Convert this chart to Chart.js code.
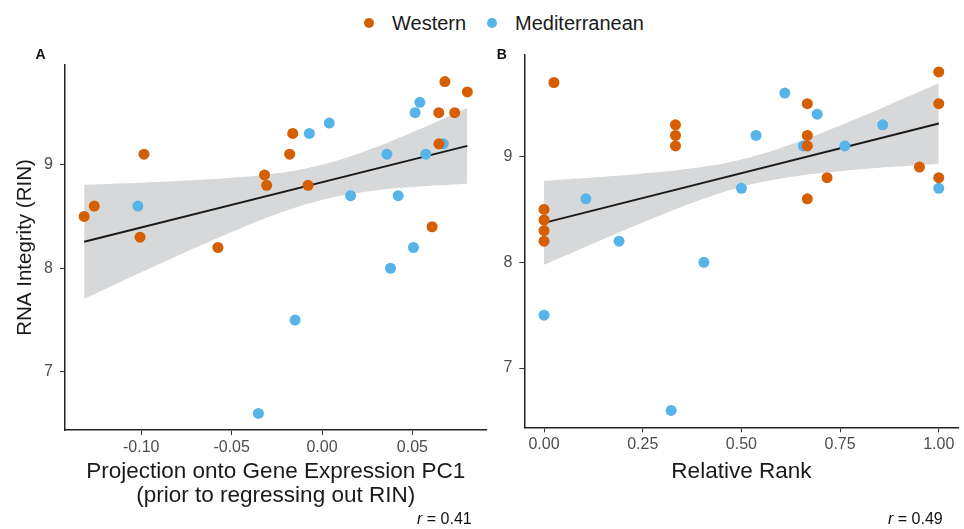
<!DOCTYPE html>
<html>
<head>
<meta charset="utf-8">
<script src="https://cdn.jsdelivr.net/npm/chart.js@4.4.0/dist/chart.umd.min.js"></script>
<style>
  body { margin:0; background:#fff; width:964px; height:529px; position:relative; overflow:hidden; font-family:"Liberation Sans", Arial, sans-serif; }
  #chartA { position:absolute; left:0; top:0; }
  #chartB { position:absolute; left:492px; top:0; }
  .leg { position:absolute; top:10px; font-size:20px; color:#1a1a1a; line-height:26px; }
  .dot { position:absolute; width:10px; height:10px; border-radius:50%; top:18px; }
</style>
</head>
<body>
<span class="dot" style="left:364px;background:#D55E00"></span>
<span class="leg" style="left:392px">Western</span>
<span class="dot" style="left:487px;background:#56B4E9"></span>
<span class="leg" style="left:515px">Mediterranean</span>
<canvas id="chartA" width="492" height="529"></canvas>
<canvas id="chartB" width="472" height="529"></canvas>
<script>
// panel A : projection onto PC1
var aWestX=[-0.1316,-0.126,-0.0985,-0.1007,-0.0576,-0.0318,-0.0306,-0.0162,-0.0179,-0.0077,0.068,0.0804,0.0646,0.0734,0.0647,0.0609];
var aWestY=[8.5,8.6,9.1,8.3,8.2,8.9,8.8,9.3,9.1,8.8,9.8,9.7,9.5,9.5,9.2,8.4];
var aMedX=[-0.1019,-0.007,0.004,0.0158,0.0359,0.0421,0.0515,0.0541,0.0574,0.0671,0.0506,0.0379,-0.0149,-0.0352];
var aMedY=[8.6,9.3,9.4,8.7,9.1,8.7,9.5,9.6,9.1,9.2,8.2,8.0,7.5,6.6];
var aFitX=[-0.1316,0.0804];
var aFitY=[8.255,9.18];
var aBandX=[-0.1316,-0.1,-0.075,-0.05,-0.025,0,0.025,0.05,0.0804];
var aBandHi=[8.805,8.825,8.845,8.872,8.916,8.999,9.136,9.311,9.545];
var aBandLo=[7.705,7.961,8.160,8.350,8.524,8.659,8.740,8.783,8.815];
var aXTicks=[-0.10,-0.05,0.00,0.05];

// panel B : relative rank
var bWestX=[0.025,0,0,0,0,0.333,0.333,0.333,0.667,0.667,0.667,0.667,0.717,0.951,1,1,1];
var bWestY=[9.7,8.5,8.4,8.3,8.2,9.3,9.2,9.1,9.5,9.2,9.1,8.6,8.8,8.9,9.8,9.5,8.8];
var bMedX=[0.106,0.19,0.405,0.5,0.537,0.61,0.657,0.692,0.762,0.858,1,0,0.322];
var bMedY=[8.6,8.2,8.0,8.7,9.2,9.6,9.1,9.4,9.1,9.3,8.7,7.5,6.6];
var bFitX=[0,1];
var bFitY=[8.373,9.312];
var bBandX=[0,0.125,0.25,0.375,0.5,0.625,0.75,0.875,1];
var bBandHi=[8.770,8.802,8.840,8.889,8.973,9.114,9.294,9.490,9.692];
var bBandLo=[7.976,8.178,8.376,8.561,8.713,8.806,8.860,8.900,8.932];
var bXTicks=[0,0.25,0.5,0.75,1];

var yTicks=[7,8,9];
var FAM='"Liberation Sans", Arial, sans-serif';
var WEST='#D55E00', MED='#56B4E9';

function pts(xs,ys){ return xs.map(function(x,i){ return {x:x,y:ys[i]}; }); }

function labelPlugin(letter,lx,ly,rText,rx,ry){
  return {
    id:'labels'+letter,
    afterDraw:function(chart){
      var c=chart.ctx;
      c.save();
      c.fillStyle='#111';
      c.font='bold 14px '+FAM;
      c.textAlign='center'; c.textBaseline='middle';
      c.fillText(letter,lx,ly);
      c.textAlign='left';
      c.font='italic 16px '+FAM;
      c.fillText('r',rx,ry);
      var w=c.measureText('r').width;
      c.font='16px '+FAM;
      c.fillText(' = '+rText,rx+w,ry);
      c.restore();
    }
  };
}

function makeChart(id,o){
  return new Chart(document.getElementById(id),{
    type:'scatter',
    data:{datasets:[
      {label:'Western',data:pts(o.wx,o.wy),backgroundColor:WEST,borderWidth:0,pointRadius:5.5},
      {label:'Mediterranean',data:pts(o.mx,o.my),backgroundColor:MED,borderWidth:0,pointRadius:5.5},
      {label:'fit',data:pts(o.fx,o.fy),showLine:true,borderColor:'#1a1a1a',borderWidth:2,pointRadius:0},
      {label:'hi',data:pts(o.bx,o.hi),showLine:true,borderWidth:0,pointRadius:0,fill:'+1',backgroundColor:'rgba(215,216,217,1)',tension:0.4},
      {label:'lo',data:pts(o.bx,o.lo),showLine:true,borderWidth:0,pointRadius:0,tension:0.4}
    ]},
    options:{
      responsive:false,animation:false,
      layout:{padding:o.pad},
      plugins:{legend:{display:false},tooltip:{enabled:false}},
      scales:{
        x:{
          type:'linear',min:o.xmin,max:o.xmax,
          afterBuildTicks:function(s){ s.ticks=o.xt.map(function(v){return {value:v};}); },
          afterFit:function(s){ s.height=o.xh; },
          border:{display:true,color:'#222',width:1.5},
          grid:{drawOnChartArea:false,drawTicks:true,tickLength:5,color:'#333'},
          ticks:{font:{size:16,family:FAM},color:'#4d4d4d',padding:3,maxRotation:0,
            callback:function(v){ return v.toFixed(2); }},
          title:{display:true,text:o.xtitle,font:{size:22.5,family:FAM,lineHeight:1.04},color:'#1a1a1a',padding:{top:0,bottom:o.tpad}}
        },
        y:{
          type:'linear',min:6.44,max:9.96,
          afterBuildTicks:function(s){ s.ticks=yTicks.map(function(v){return {value:v};}); },
          afterFit:function(s){ s.width=o.yw; },
          border:{display:true,color:'#222',width:1.5},
          grid:{drawOnChartArea:false,drawTicks:true,tickLength:5,color:'#333'},
          ticks:{font:{size:16,family:FAM},color:'#4d4d4d',padding:7},
          title:{display:o.ytitle!=null,text:o.ytitle||'',font:{size:20.5,family:FAM},color:'#1a1a1a',padding:{top:13,bottom:0}}
        }
      }
    },
    plugins:[labelPlugin(o.letter,o.lx,o.ly,o.r,o.rx,o.ry)]
  });
}

makeChart('chartA',{
  wx:aWestX,wy:aWestY,mx:aMedX,my:aMedY,fx:aFitX,fy:aFitY,bx:aBandX,hi:aBandHi,lo:aBandLo,
  xmin:-0.1422,xmax:0.091,xt:aXTicks,xh:99,yw:65,pad:{top:65,right:4,left:0,bottom:0},
  xtitle:['Projection onto Gene Expression PC1','(prior to regressing out RIN)'],tpad:22,
  ytitle:'RNA Integrity (RIN)',letter:'A',lx:40.5,ly:55,r:'0.41',rx:417,ry:520
});
makeChart('chartB',{
  wx:bWestX,wy:bWestY,mx:bMedX,my:bMedY,fx:bFitX,fy:bFitY,bx:bBandX,hi:bBandHi,lo:bBandLo,
  xmin:-0.05,xmax:1.05,xt:bXTicks,xh:101.7,yw:32.3,pad:{top:55,right:1.3,left:0,bottom:0},
  xtitle:'Relative Rank',tpad:46,
  ytitle:null,letter:'B',lx:9.7,ly:55,r:'0.49',rx:396,ry:520
});
</script>
</body>
</html>
